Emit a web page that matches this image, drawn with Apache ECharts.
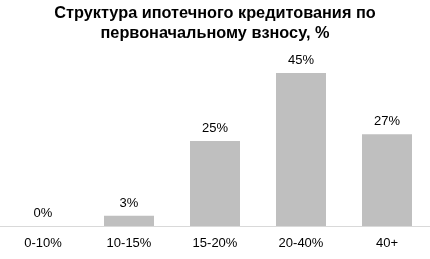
<!DOCTYPE html>
<html><head><meta charset="utf-8">
<script src="https://cdn.jsdelivr.net/npm/echarts@6/dist/echarts.min.js"></script>
<style>html,body{margin:0;padding:0;background:#fff}#c{width:430px;height:259px}</style>
</head><body><div id="c"></div>
<script>
const categories = ['0-10%', '10-15%', '15-20%', '20-40%', '40+'];
const values = [0, 3, 25, 45, 27];
const titleText = 'Структура ипотечного кредитования по\nпервоначальному взносу, %';

const chart = echarts.init(document.getElementById('c'), null, {renderer: 'canvas'});
chart.setOption({
  animation: false,
  title: {
    text: titleText,
    left: 'center',
    top: -1,
    textStyle: {fontFamily: 'Liberation Sans, Arial', fontSize: 16.3, fontWeight: 'bold', color: '#000', lineHeight: 20}
  },
  grid: {left: -4, right: 0, top: 56, bottom: 33, containLabel: false},
  xAxis: {
    type: 'category',
    data: categories,
    axisLine: {lineStyle: {color: '#D9D9D9', width: 1}},
    axisTick: {show: false},
    axisLabel: {fontFamily: 'Liberation Sans, Arial', fontSize: 13, color: '#000', margin: 11}
  },
  yAxis: {
    type: 'value', min: 0, max: 50, show: false,
    splitLine: {show: false}
  },
  series: [{
    type: 'bar',
    data: values,
    barWidth: 50,
    itemStyle: {color: '#BFBFBF'},
    label: {show: true, position: 'top', distance: 6, formatter: '{c}%',
      fontFamily: 'Liberation Sans, Arial', fontSize: 13, color: '#000'}
  }]
});
</script></body></html>
